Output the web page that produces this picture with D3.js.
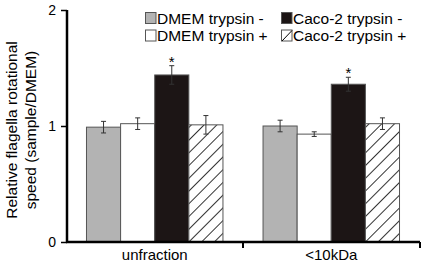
<!DOCTYPE html>
<html><head><meta charset="utf-8">
<script src="https://cdn.jsdelivr.net/npm/d3@7"></script>
<style>body{margin:0;background:#fff}svg{display:block;font-family:"Liberation Sans",Arial,sans-serif}</style>
</head><body><svg id="c" width="423" height="264"></svg>
<script>
const groups = ["unfraction", "<10kDa"];
const series = ["DMEM trypsin -", "DMEM trypsin +", "Caco-2 trypsin -", "Caco-2 trypsin +"];
const values = [[0.99, 1.02, 1.44, 1.01], [1.00, 0.93, 1.36, 1.02]];
const errors = [[0.05, 0.05, 0.08, 0.08], [0.05, 0.02, 0.06, 0.05]];
const stars = [[false, false, true, false], [false, false, true, false]];
const yTicks = [0, 1, 2];
const legendOrder = [[0, 2], [1, 3]];

const svg = d3.select("#c");
const defs = svg.append("defs");
const pat = defs.append("pattern").attr("id","hatch").attr("patternUnits","userSpaceOnUse")
  .attr("width",9).attr("height",9).attr("patternTransform","rotate(-45)");
pat.append("rect").attr("width",9).attr("height",9).attr("fill","#fff");
pat.append("line").attr("x1",0).attr("y1",0).attr("x2",9).attr("y2",0).attr("stroke","#000").attr("stroke-width",1.6);

const fills = ["#b3b3b3", "#ffffff", "#1c1515", "url(#hatch)"];

const x0 = d3.scaleBand().domain(groups).range([66, 420]).paddingInner(0.227).paddingOuter(0.116);
const x1 = d3.scaleBand().domain(series).range([0, x0.bandwidth()]);
const y = d3.scaleLinear().domain([0, 2]).range([242, 10]);

groups.forEach((g, gi) => {
  const gg = svg.append("g").attr("transform", `translate(${x0(g)},0)`);
  series.forEach((s, si) => {
    const v = values[gi][si], e = errors[gi][si];
    gg.append("rect").attr("x", x1(s)).attr("y", y(v)).attr("width", x1.bandwidth()).attr("height", y(0) - y(v))
      .attr("fill", fills[si]).attr("stroke", "#555").attr("stroke-width", 1);
    const cx = x1(s) + x1.bandwidth() / 2;
    const eb = gg.append("g").attr("stroke", "#333").attr("stroke-width", 1);
    eb.append("line").attr("x1", cx).attr("x2", cx).attr("y1", y(v + e)).attr("y2", y(v - e));
    eb.append("line").attr("x1", cx - 2.5).attr("x2", cx + 2.5).attr("y1", y(v + e)).attr("y2", y(v + e));
    eb.append("line").attr("x1", cx - 2.5).attr("x2", cx + 2.5).attr("y1", y(v - e)).attr("y2", y(v - e));
    if (stars[gi][si]) {
      gg.append("text").attr("x", cx).attr("y", y(v + e) + 1).attr("text-anchor", "middle")
        .attr("font-size", 15).text("*");
    }
  });
});

// axes
const yAxis = svg.append("g").attr("transform", "translate(67,0)")
  .call(d3.axisLeft(y).tickValues(yTicks).tickFormat(d3.format("d")).tickSize(6).tickPadding(5));
yAxis.select(".domain").attr("stroke-width", 2.5).attr("d", `M0,${y(2)}V${y(0)}`);
yAxis.selectAll(".tick line").attr("stroke-width", 1.5);
yAxis.selectAll("text").attr("font-size", 14).attr("font-family", "Liberation Sans, Arial, sans-serif").attr("fill","#000");

const xAxis = svg.append("g").attr("transform", `translate(0,${y(0)})`)
  .call(d3.axisBottom(x0).tickSize(0).tickPadding(7));
xAxis.select(".domain").attr("stroke-width", 2.5).attr("d", "M66,0H420");
xAxis.selectAll("text").attr("font-size", 15).attr("font-family", "Liberation Sans, Arial, sans-serif").attr("fill","#000");
const divs = [x0(groups[1]) - x0.step() * x0.paddingInner() / 2, 420];
divs.forEach(d => svg.append("line").attr("x1", d).attr("x2", d).attr("y1", y(0)).attr("y2", y(0) + 6)
  .attr("stroke", "#000").attr("stroke-width", 2));

// y title
const yt = svg.append("text").attr("transform", "translate(0,130) rotate(-90)").attr("text-anchor", "middle")
  .attr("font-size", 15.5);
yt.append("tspan").attr("x", 0).attr("y", 17).text("Relative flagella rotational");
yt.append("tspan").attr("x", 0).attr("y", 36).text("speed (sample/DMEM)");

// legend
const colX = [145, 281], rowY = [12.5, 30];
legendOrder.forEach((row, ri) => row.forEach((si, ci) => {
  const lg = svg.append("g").attr("transform", `translate(${colX[ci]},${rowY[ri]})`);
  lg.append("rect").attr("x", 0.5).attr("y", 0).attr("width", 10.5).attr("height", 11)
    .attr("fill", si === 3 ? "#fff" : fills[si]).attr("stroke", "#555");
  if (si === 3) lg.append("line").attr("x1", 1).attr("y1", 11).attr("x2", 11).attr("y2", 0.5).attr("stroke", "#000");
  lg.append("text").attr("x", 12).attr("y", 11).attr("font-size", 15.5).text(series[si]);
}));
</script></body></html>
